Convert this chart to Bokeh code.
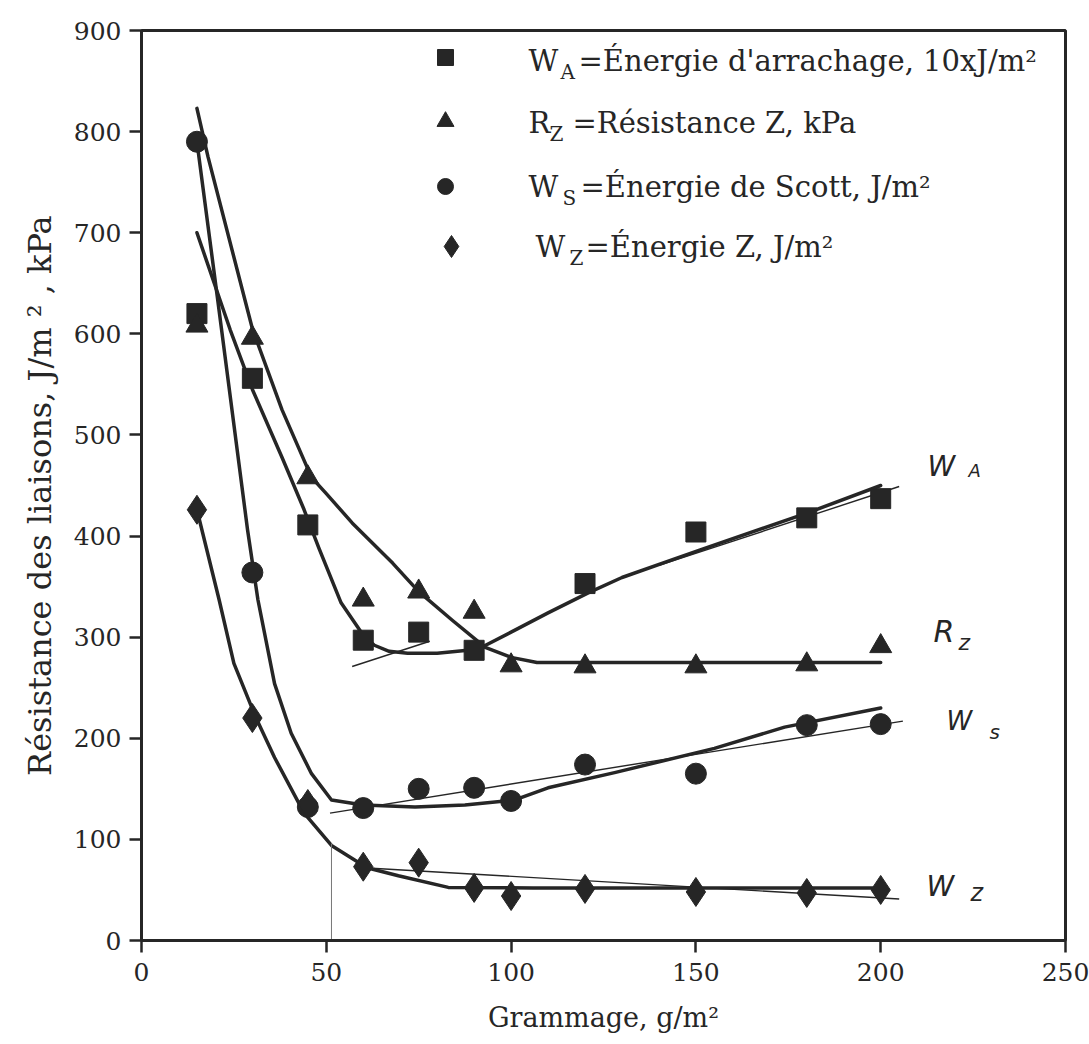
from bokeh.plotting import figure
from bokeh.models import Range1d, Label
from bokeh.embed import file_html
from bokeh.resources import INLINE

# ---------------- data ----------------
gram = [15, 30, 45, 60, 75, 90, 100, 120, 150, 180, 200]
wa_x = [15, 30, 45, 60, 75, 90, 120, 150, 180, 200]
wa_y = [620, 556, 411, 297, 305, 287, 353, 404, 418, 437]
rz_y = [608, 596, 458, 337, 345, 325, 272, 271, 271, 273, 291]
ws_y = [790, 364, 132, 131, 150, 151, 138, 174, 165, 213, 214]
wz_y = [426, 220, 135, 73, 77, 52, 44, 51, 48, 47, 50]

# hand-fitted curves (thick)
wa_fit_x = [15, 24, 30, 38, 44, 48, 54, 60, 63, 67, 72, 80, 91, 100, 110, 121, 130, 151, 181, 200]
wa_fit_y = [700, 604, 545, 478, 426, 388, 334, 302, 292, 286, 284, 284, 288, 305, 324, 344, 359, 386, 424, 450]
rz_fit_x = [15, 18, 30, 38, 46, 50, 57, 68, 75, 84, 93, 100, 107, 120, 200]
rz_fit_y = [823, 775, 605, 525, 458, 442, 413, 373, 345, 317, 290, 280, 275, 275, 275]
ws_fit_x = [15, 20.5, 28.7, 31.5, 36, 40.5, 46, 51.4, 60, 74, 87.5, 101, 110, 128, 155, 174, 200]
ws_fit_y = [790, 637, 406, 337, 254, 205, 165, 139, 134, 132, 134, 139, 151, 166, 190, 211, 230]
wz_fit_x = [15, 21, 25, 31, 36, 44, 51.4, 61, 69.5, 83, 106, 200]
wz_fit_y = [426, 337, 274, 220, 181, 126, 94, 72, 64, 52.5, 52, 52]

# thin straight trend lines (visible pieces)
wa_lin1_x = [57, 78]
wa_lin1_y = [271, 296]
wa_lin2_x = [140, 205]
wa_lin2_y = [371, 449]
ws_lin_x = [51, 206]
ws_lin_y = [126, 217]
wz_lin_x = [60, 205]
wz_lin_y = [72, 41]
mark_x = [51.4, 51.4]
mark_y = [0, 96]

x_ticks = [0, 50, 100, 150, 200, 250]
y_ticks = [0, 100, 200, 300, 400, 500, 600, 700, 800, 900]

INK = "#262626"
SERIF = "DejaVu Serif"

# ---------------- layout ----------------
W, H = 1089, 1044
FL, FR, FT, FB = 141, 1065, 30, 940   # frame edges in pixels

p = figure(width=W, height=H, output_backend="svg", toolbar_location=None,
           x_range=Range1d(0, 250), y_range=Range1d(0, 900),
           min_border_left=FL, min_border_right=W - FR,
           min_border_top=FT, min_border_bottom=H - FB)
p.background_fill_color = "white"
p.border_fill_color = "white"
p.grid.visible = False
p.outline_line_color = INK
p.outline_line_width = 3

for ax in (p.xaxis[0], p.yaxis[0]):
    ax.axis_line_color = INK
    ax.axis_line_width = 3
    ax.major_tick_line_color = INK
    ax.major_tick_line_width = 2.5
    ax.minor_tick_line_color = INK
    ax.minor_tick_line_width = 2.5
    ax.major_tick_in = 0
    ax.major_tick_out = 12
    ax.minor_tick_in = 0
    ax.minor_tick_out = 6
    ax.major_label_text_font = SERIF
    ax.major_label_text_font_size = "25px"
    ax.major_label_text_color = INK
    ax.axis_label_text_font = SERIF
    ax.axis_label_text_font_style = "normal"
    ax.axis_label_text_color = INK

p.xaxis[0].axis_label_text_font_size = "27px"
p.yaxis[0].axis_label_text_font_size = "32px"
p.xaxis.ticker = x_ticks
p.yaxis.ticker = y_ticks
p.xaxis[0].ticker.num_minor_ticks = 2
p.yaxis[0].ticker.num_minor_ticks = 2
p.xaxis.major_label_standoff = 10
p.yaxis.major_label_standoff = 8
p.xaxis.axis_label = "Grammage, g/m²"
p.yaxis.axis_label = "Résistance des liaisons, J/m  ²  , kPa"
p.xaxis.axis_label_standoff = 18
p.yaxis.axis_label_standoff = 12

# ---------------- curves ----------------
for fx, fy in ((wa_fit_x, wa_fit_y), (rz_fit_x, rz_fit_y),
               (ws_fit_x, ws_fit_y), (wz_fit_x, wz_fit_y)):
    p.line(fx, fy, line_color=INK, line_width=3.5, line_join="round", line_cap="round")
for lx, ly in ((wa_lin1_x, wa_lin1_y), (wa_lin2_x, wa_lin2_y),
               (ws_lin_x, ws_lin_y), (wz_lin_x, wz_lin_y)):
    p.line(lx, ly, line_color=INK, line_width=1.4)
p.line(mark_x, mark_y, line_color="#777777", line_width=1)

# ---------------- markers ----------------
p.scatter(wa_x, wa_y, marker="square", size=20, fill_color=INK, line_color=INK)
p.scatter(gram, rz_y, marker="triangle", size=22, fill_color=INK, line_color=INK)
p.scatter(gram, ws_y, marker="circle", size=21, fill_color=INK, line_color=INK)
p.scatter(gram, wz_y, marker="diamond", size=29, fill_color=INK, line_color=INK)


def dx(px):
    return (px - FL) * 250 / (FR - FL)


def dy(py):
    return (FB - py) * 900 / (FB - FT)


def lab(px, py, text, size, style="normal", font=SERIF):
    p.add_layout(Label(x=dx(px), y=dy(py), text=text, text_font=font,
                       text_font_size=size, text_font_style=style,
                       text_color=INK, text_baseline="middle", text_align="left"))


# ---------------- legend (built by hand) ----------------
leg_markers = ["square", "triangle", "circle", "diamond"]
leg_px = [445, 445, 445, 451]
leg_py = [57, 121, 186, 246]
leg_size = [16, 17, 16, 22]
for m, mx, my, ms in zip(leg_markers, leg_px, leg_py, leg_size):
    p.scatter([dx(mx)], [dy(my)], marker=m, size=ms, fill_color=INK, line_color=INK)

legend_rows = [
    ("W", "A", "=Énergie d'arrachage, 10xJ/m²", 528, 560, 578, 60),
    ("R", "Z", "=Résistance Z, kPa", 528, 549, 572, 122),
    ("W", "S", "=Énergie de Scott, J/m²", 528, 562, 580, 186),
    ("W", "Z", "=Énergie Z, J/m²", 535, 569, 585, 246),
]
for big, sub, rest, x1, x2, x3, ry in legend_rows:
    lab(x1, ry, big, "29px")
    lab(x2, ry + 11, sub, "20px")
    lab(x3, ry, rest, "29px")

# ---------------- handwritten curve names ----------------
HAND = "DejaVu Sans"
lab(927, 466, "W", "28px", "italic", HAND)
lab(968, 470, "A", "18px", "italic", HAND)
lab(933, 631, "R", "30px", "italic", HAND)
lab(958, 642, "z", "22px", "italic", HAND)
lab(946, 720, "W", "26px", "italic", HAND)
lab(989, 731, "s", "20px", "italic", HAND)
lab(926, 886, "W", "28px", "italic", HAND)
lab(970, 892, "z", "24px", "italic", HAND)

open("out.html", "w").write(file_html(p, INLINE))
